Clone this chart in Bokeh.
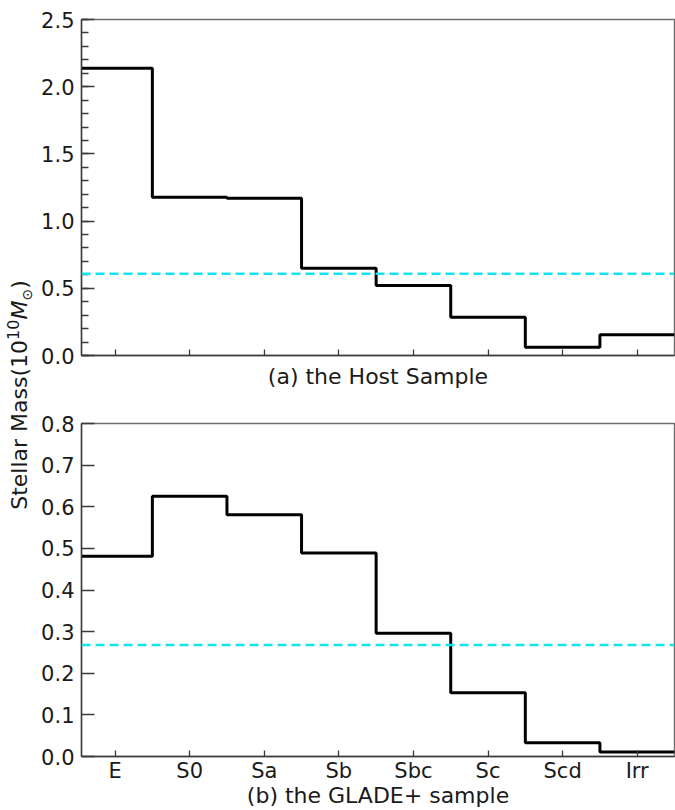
from bokeh.plotting import figure
from bokeh.models import Range1d, FixedTicker, NumeralTickFormatter, Span, Div
from bokeh.layouts import row, column
from bokeh.embed import file_html
from bokeh.resources import INLINE

# Morphological classes along the x axis
morph_types = ["E", "S0", "Sa", "Sb", "Sbc", "Sc", "Scd", "Irr"]

# Stellar mass per class, in units of 1e10 solar masses
host_mass = [2.138, 1.178, 1.170, 0.650, 0.521, 0.285, 0.062, 0.154]
glade_mass = [0.481, 0.625, 0.581, 0.489, 0.296, 0.153, 0.033, 0.011]

# Reference levels (dashed lines)
host_ref = 0.608
glade_ref = 0.268

# Axis ticks
host_yticks = [0.0, 0.5, 1.0, 1.5, 2.0, 2.5]
host_yminor = [round(0.1 * i, 1) for i in range(26)]
glade_yticks = [0.0, 0.1, 0.2, 0.3, 0.4, 0.5, 0.6, 0.7, 0.8]

FONT = "DejaVu Sans"
TEXT = "#1a1a1a"
LEFT_W = 27          # width of the column holding the shared y label
FIG_W = 675 - LEFT_W
FRAME_LEFT = 81      # page x of the plot frame's left edge


def make_panel(values, ref, yticks, yminor, ymax, caption, show_xlabels,
               height, border_top, border_bottom):
    p = figure(width=FIG_W, height=height, output_backend="svg",
               toolbar_location=None, tools="",
               x_range=Range1d(-0.45, 7.5), y_range=Range1d(0, ymax),
               min_border_left=FRAME_LEFT - LEFT_W, min_border_right=1,
               min_border_top=border_top, min_border_bottom=border_bottom)
    p.xgrid.visible = False
    p.ygrid.visible = False
    p.outline_line_color = "#6e6e6e"
    p.outline_line_width = 1.4
    p.background_fill_color = "white"
    p.border_fill_color = None

    # histogram-style step outline, bins centred on each class
    edges = [i - 0.5 for i in range(len(values) + 1)]
    levels = list(values) + [values[-1]]
    p.step(edges, levels, mode="after", line_color="black", line_width=3)

    p.add_layout(Span(location=ref, dimension="width", line_color="#14e3f0",
                      line_width=2.5, line_dash="9 5"))

    # y axis
    p.yaxis.ticker = FixedTicker(ticks=yticks, minor_ticks=yminor)
    p.yaxis.formatter = NumeralTickFormatter(format="0.0")
    p.yaxis.axis_label = None
    p.yaxis.major_tick_in = 13
    p.yaxis.major_tick_out = 0
    p.yaxis.minor_tick_in = 7
    p.yaxis.minor_tick_out = 0
    p.yaxis.major_label_standoff = 7
    p.yaxis.major_label_text_font = FONT
    p.yaxis.major_label_text_font_size = "21px"
    p.yaxis.major_label_text_color = TEXT
    p.yaxis.axis_line_color = "#3a3a3a"
    p.yaxis.axis_line_width = 1.4
    p.yaxis.major_tick_line_color = "#3a3a3a"
    p.yaxis.minor_tick_line_color = "#3a3a3a"
    p.yaxis.major_tick_line_width = 1.3
    p.yaxis.minor_tick_line_width = 1.3

    # x axis
    ticks = list(range(len(morph_types)))
    p.xaxis.ticker = FixedTicker(ticks=ticks, minor_ticks=[])
    p.xaxis.major_tick_in = 6
    p.xaxis.major_tick_out = 0
    p.xaxis.axis_line_color = "#3a3a3a"
    p.xaxis.axis_line_width = 1.4
    p.xaxis.major_tick_line_color = "#3a3a3a"
    p.xaxis.major_tick_line_width = 1.3
    p.xaxis.major_label_text_font = FONT
    p.xaxis.major_label_text_color = TEXT
    p.xaxis.major_label_text_font_size = "21px"
    if show_xlabels:
        p.xaxis.major_label_overrides = {i: t for i, t in zip(ticks, morph_types)}
        p.xaxis.major_label_standoff = 2
        p.xaxis.axis_label_standoff = -3
    else:
        p.xaxis.major_label_overrides = {i: "" for i in ticks}
        p.xaxis.major_label_standoff = 0
        p.xaxis.axis_label_standoff = 8
    p.xaxis.axis_label = caption
    p.xaxis.axis_label_text_font = FONT
    p.xaxis.axis_label_text_font_size = "22px"
    p.xaxis.axis_label_text_font_style = "normal"
    p.xaxis.axis_label_text_color = TEXT
    return p


top = make_panel(host_mass, host_ref, host_yticks, host_yminor, 2.5,
                 "(a) the Host Sample", False, 405, 19, 50)
bottom = make_panel(glade_mass, glade_ref, glade_yticks, [], 0.8,
                    "(b) the GLADE+ sample", True, 405, 18, 53)

# shared y label, rotated, centred at page x=20, y=395
ylabel = Div(
    text=(
        '<div style="position:absolute;left:20px;top:395px;'
        'transform:translate(-50%%,-50%%) rotate(-90deg);white-space:nowrap;'
        "font-family:'DejaVu Sans';font-size:22px;color:%s;line-height:1;\">"
        'Stellar Mass(10<sup style="font-size:16px;">10</sup>'
        '<i>M</i><sub style="font-size:14px;">&#8857;</sub>)</div>'
    ) % TEXT,
    width=LEFT_W, height=790, margin=0,
    styles={"position": "relative", "overflow": "visible"},
)

layout = row(ylabel, column(top, bottom, spacing=0), spacing=0)

open("out.html", "w").write(file_html(layout, INLINE))
